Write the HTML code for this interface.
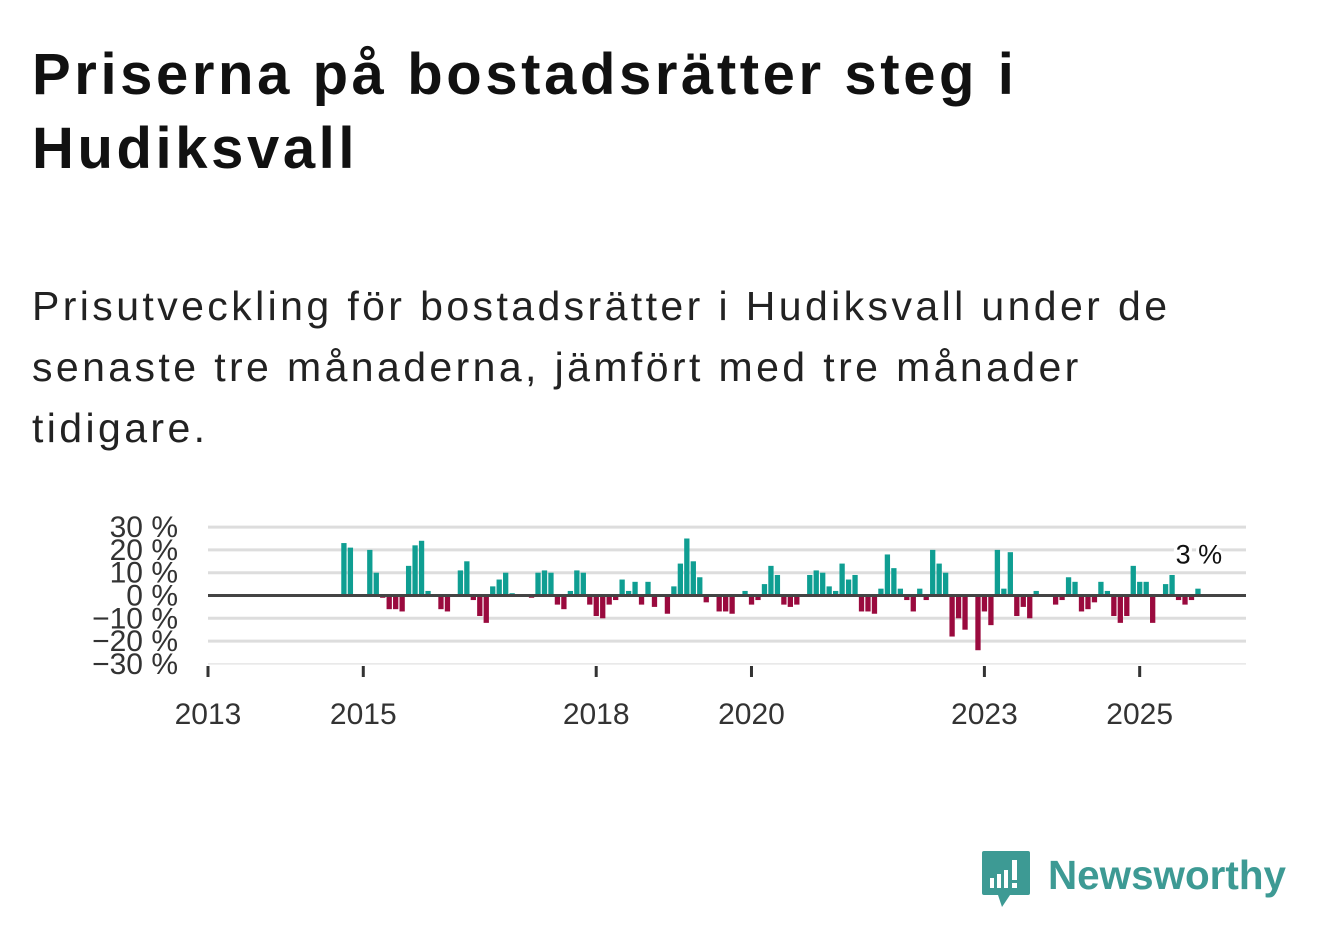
<!DOCTYPE html>
<html><head><meta charset="utf-8">
<style>
body{margin:0;width:1322px;height:939px;background:#fff;font-family:"Liberation Sans",sans-serif;overflow:hidden;position:relative}
h1{position:absolute;left:32px;top:38px;margin:0;font-size:58px;line-height:74px;font-weight:bold;color:#111;width:1250px;letter-spacing:3.6px;white-space:nowrap}
p{position:absolute;left:32px;top:276px;margin:0;font-size:41px;line-height:61px;color:#222;width:1280px;letter-spacing:3.4px;white-space:nowrap}
svg{position:absolute;left:0;top:0}
</style></head><body>
<h1>Priserna på bostadsrätter steg i<br>Hudiksvall</h1>
<p>Prisutveckling för bostadsrätter i Hudiksvall under de<br>senaste tre månaderna, jämfört med tre månader<br>tidigare.</p>
<svg id="chart" width="1322" height="939"></svg>
<script>
const startYear = 2013;
const monthIdx = [21,22,25,26,27,28,29,30,31,32,33,34,36,37,39,40,41,42,43,44,45,46,47,50,51,52,53,54,55,56,57,58,59,60,61,62,63,64,65,66,67,68,69,71,72,73,74,75,76,77,79,80,81,83,84,85,86,87,88,89,90,91,93,94,95,96,97,98,99,100,101,102,103,104,105,106,107,108,109,110,111,112,113,114,115,116,117,119,120,121,122,123,124,125,126,127,128,131,132,133,134,135,136,137,138,139,140,141,142,143,144,145,146,148,149,150,151,152,153];
const values = [23,21,20,10,-1,-6,-6,-7,13,22,24,2,-6,-7,11,15,-2,-9,-12,4,7,10,1,-1,10,11,10,-4,-6,2,11,10,-4,-9,-10,-4,-2,7,2,6,-4,6,-5,-8,4,14,25,15,8,-3,-7,-7,-8,2,-4,-2,5,13,9,-4,-5,-4,9,11,10,4,2,14,7,9,-7,-7,-8,3,18,12,3,-2,-7,3,-2,20,14,10,-18,-10,-15,-24,-7,-13,20,3,19,-9,-5,-10,2,-4,-2,8,6,-7,-6,-3,6,2,-9,-12,-9,13,6,6,-12,5,9,-2,-4,-2,3];
const yTicks = [30,20,10,0,-10,-20,-30];
const yLabels = ["30 %","20 %","10 %","0 %","−10 %","−20 %","−30 %"];
const xTickYears = [2013,2015,2018,2020,2023,2025];
const lastLabel = "3 %";

const svg = document.getElementById('chart');
const NS = 'http://www.w3.org/2000/svg';
const x0 = 208, monthW = 6.47, xEnd = 1246;
const xScale = m => x0 + m * monthW;
const yScale = v => 595.5 - v * 2.28;
function mk(tag, attrs){const e=document.createElementNS(NS,tag);for(const k in attrs)e.setAttribute(k,attrs[k]);svg.appendChild(e);return e;}

yTicks.forEach((t,i)=>{
  if(t!==0 && t!==-30){
    const g=mk('line',{x1:x0,x2:xEnd,y1:yScale(t),y2:yScale(t),stroke:'#ddd','stroke-width':3});
    
    
  }
  const tx=mk('text',{x:178,y:yScale(t)+10,'text-anchor':'end','font-size':30,fill:'#333','font-family':'Liberation Sans, sans-serif'});
  tx.textContent=yLabels[i];
  
  
});
const ax=mk('line',{x1:x0,x2:xEnd,y1:yScale(-30),y2:yScale(-30),stroke:'#e6e6e6','stroke-width':1.5});



monthIdx.forEach((m,i)=>{
  const v=values[i];
  const y=yScale(Math.max(v,0)), h=Math.abs(yScale(v)-yScale(0));
  const r=mk('rect',{x:xScale(m)-2.6,y:y,width:5.3,height:h,fill:v>=0?'#0f9e92':'#9a0a3e'});
  
  
});
const zl=mk('line',{x1:x0,x2:xEnd,y1:yScale(0),y2:yScale(0),stroke:'#444','stroke-width':3});



xTickYears.forEach(yr=>{
  const x=xScale((yr-startYear)*12);
  const tk=mk('line',{x1:x,x2:x,y1:666,y2:677,stroke:'#333','stroke-width':3});
  
  
  const tl=mk('text',{x:x,y:724,'text-anchor':'middle','font-size':30,fill:'#333','font-family':'Liberation Sans, sans-serif'});
  tl.textContent=yr;
  
  
});
const lm=monthIdx[monthIdx.length-1];
const ll=mk('text',{x:xScale(lm)+1,y:yScale(values[values.length-1])-25,'text-anchor':'middle','font-size':27,fill:'#111','font-family':'Liberation Sans, sans-serif',stroke:'#fff','stroke-width':6,'paint-order':'stroke'});
ll.textContent=lastLabel;


</script>
<svg width="1322" height="939" style="pointer-events:none">
  <path d="M984 851 h44 a2 2 0 0 1 2 2 v40 a2 2 0 0 1 -2 2 h-18 l-8 12 l-4 -12 h-14 a2 2 0 0 1 -2 -2 v-40 a2 2 0 0 1 2 -2z" fill="#3d9a94"/>
  <rect x="990" y="878" width="4" height="10" fill="#fff"/><rect x="997" y="874" width="4" height="14" fill="#fff"/><rect x="1004" y="870" width="4" height="18" fill="#fff"/><rect x="1012" y="860" width="5" height="20" fill="#fff"/><rect x="1012" y="883" width="5" height="5" fill="#fff"/>
  <text x="1048" y="889" font-size="41" font-weight="bold" fill="#3d9a94" font-family="Liberation Sans, sans-serif" textLength="238" lengthAdjust="spacingAndGlyphs">Newsworthy</text>
</svg>
</body></html>
